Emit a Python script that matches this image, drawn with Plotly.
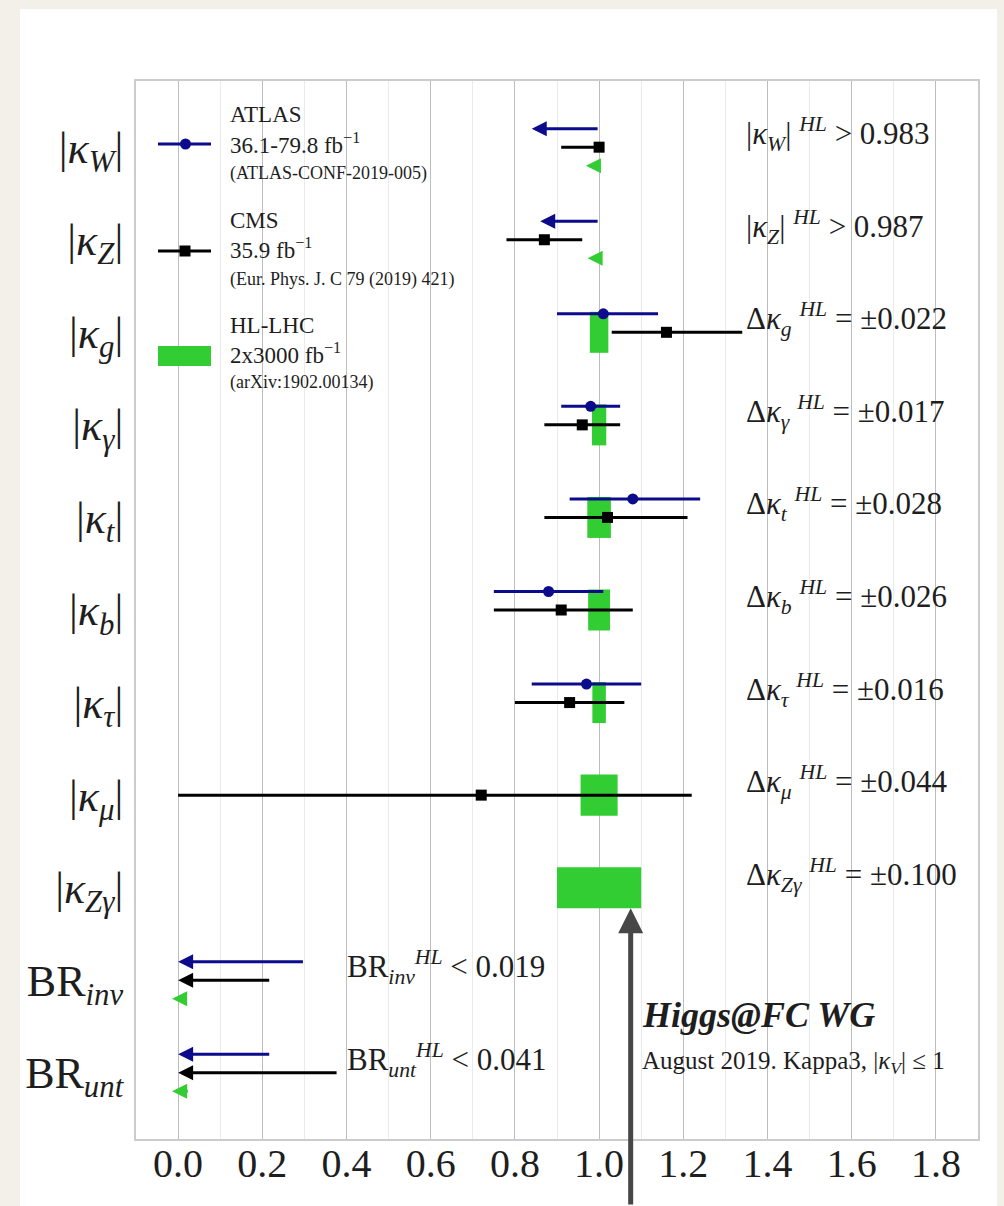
import plotly.graph_objects as go

# ---- data -------------------------------------------------------------
rows = ["kW", "kZ", "kg", "kgam", "kt", "kb", "ktau", "kmu", "kZgam", "BRinv", "BRunt"]
row_labels = [
    "|<i>κ</i><sub><i>W</i></sub>|",
    "|<i>κ</i><sub><i>Z</i></sub>|",
    "|<i>κ</i><sub><i>g</i></sub>|",
    "|<i>κ</i><sub><i>γ</i></sub>|",
    "|<i>κ</i><sub><i>t</i></sub>|",
    "|<i>κ</i><sub><i>b</i></sub>|",
    "|<i>κ</i><sub><i>τ</i></sub>|",
    "|<i>κ</i><sub><i>μ</i></sub>|",
    "|<i>κ</i><sub><i>Zγ</i></sub>|",
    "BR<sub><i>inv</i></sub>",
    "BR<sub><i>unt</i></sub>",
]

# ATLAS 36.1-79.8 fb-1 : measured couplings (central, low, high)
atlas_rows = ["kg", "kgam", "kt", "kb", "ktau"]
atlas_central = [1.01, 0.98, 1.08, 0.88, 0.97]
atlas_low = [0.90, 0.91, 0.93, 0.75, 0.84]
atlas_high = [1.14, 1.05, 1.24, 1.01, 1.10]
# ATLAS limits drawn as arrows (from -> to)
atlas_limit_rows = ["kW", "kZ", "BRinv", "BRunt"]
atlas_limit_from = [1.0, 1.0, 0.30, 0.22]
atlas_limit_to = [0.84, 0.86, 0.0, 0.0]

# CMS 35.9 fb-1 : measured couplings (central, low, high)
cms_rows = ["kW", "kZ", "kg", "kgam", "kt", "kb", "ktau", "kmu"]
cms_central = [1.00, 0.87, 1.16, 0.96, 1.02, 0.91, 0.93, 0.72]
cms_low = [0.91, 0.78, 1.03, 0.87, 0.87, 0.75, 0.80, 0.00]
cms_high = [1.00, 0.96, 1.34, 1.05, 1.21, 1.08, 1.06, 1.22]
cms_limit_rows = ["BRinv", "BRunt"]
cms_limit_from = [0.22, 0.38]
cms_limit_to = [0.0, 0.0]

# HL-LHC projections: uncertainties around the SM value 1
hl_rows = ["kg", "kgam", "kt", "kb", "ktau", "kmu", "kZgam"]
hl_delta = [0.022, 0.017, 0.028, 0.026, 0.016, 0.044, 0.100]
hl_delta_names = ["g", "γ", "t", "b", "τ", "μ", "Zγ"]
# HL-LHC limits: kappa_V lower bounds and BR upper bounds
hl_lower_rows = ["kW", "kZ"]
hl_lower_names = ["W", "Z"]
hl_lower_values = [0.983, 0.987]
hl_br_rows = ["BRinv", "BRunt"]
hl_br_names = ["inv", "unt"]
hl_br_values = [0.019, 0.041]

x_ticks = [0.0, 0.2, 0.4, 0.6, 0.8, 1.0, 1.2, 1.4, 1.6, 1.8]

# ---- styling ------------------------------------------------------------
FONT = "Liberation Serif"
TEXT = "#1e1e1e"
BLUE = "#0b0b8c"
BLACK = "#000000"
GREEN = "#32cd32"
GREY = "#474747"
W, H = 1004, 1206
PLOT_L, PLOT_R, PLOT_T, PLOT_B = 136, 978, 81, 1139
Y_HALF = 0.715
OFFSET = 0.2          # vertical offset of ATLAS (up) and HL arrows (down)
BOX_HEIGHT = 0.443
POINTER_X = 1.075

ypos = {r: -i for i, r in enumerate(rows)}


def px_x(px):
    return (px - PLOT_L) / (PLOT_R - PLOT_L)


def px_y(py):
    return (PLOT_B - py) / (PLOT_B - PLOT_T)


fig = go.Figure()

# HL-LHC uncertainty boxes
fig.add_trace(go.Bar(
    orientation="h",
    y=[ypos[r] for r in hl_rows],
    x=[2 * d for d in hl_delta],
    base=[1 - d for d in hl_delta],
    width=BOX_HEIGHT,
    marker=dict(color=GREEN, line=dict(width=0)),
    hoverinfo="skip",
))

# ATLAS measurements
fig.add_trace(go.Scatter(
    x=atlas_central,
    y=[ypos[r] + OFFSET for r in atlas_rows],
    mode="markers",
    marker=dict(symbol="circle", size=11, color=BLUE),
    error_x=dict(type="data", symmetric=False,
                 array=[h - c for h, c in zip(atlas_high, atlas_central)],
                 arrayminus=[c - l for c, l in zip(atlas_central, atlas_low)],
                 thickness=3, width=0, color=BLUE),
))

# CMS measurements
fig.add_trace(go.Scatter(
    x=cms_central,
    y=[ypos[r] for r in cms_rows],
    mode="markers",
    marker=dict(symbol="square", size=11, color=BLACK),
    error_x=dict(type="data", symmetric=False,
                 array=[h - c for h, c in zip(cms_high, cms_central)],
                 arrayminus=[c - l for c, l in zip(cms_central, cms_low)],
                 thickness=3, width=0, color=BLACK),
))

annotations = []


def limit_arrow(x_from, x_to, y, color, shift=0):
    annotations.append(dict(
        x=x_to, y=y, ax=x_from, ay=y, xref="x", yref="y", axref="x", ayref="y",
        text="", showarrow=True, arrowhead=2, arrowsize=1.0, arrowwidth=3,
        arrowcolor=color, standoff=0, startstandoff=0, xshift=shift,
    ))


for r, a, b in zip(atlas_limit_rows, atlas_limit_from, atlas_limit_to):
    limit_arrow(a, b, ypos[r] + OFFSET, BLUE)
for r, a, b in zip(cms_limit_rows, cms_limit_from, cms_limit_to):
    limit_arrow(a, b, ypos[r], BLACK)
# HL arrows carry the head past the bound, as in the original style
for r, v in zip(hl_lower_rows, hl_lower_values):
    limit_arrow(1.0, v, ypos[r] - OFFSET, GREEN, shift=-6)
for r, v in zip(hl_br_rows, hl_br_values):
    limit_arrow(v, 0.0, ypos[r] - OFFSET, GREEN, shift=-6)

# Right-hand HL-LHC summary labels
LABEL_X = 1.343
LABEL_SIZE = 31
for r, name, v in zip(hl_lower_rows, hl_lower_names, hl_lower_values):
    annotations.append(dict(
        x=LABEL_X, y=ypos[r], xref="x", yref="y", xanchor="left", yanchor="middle",
        yshift=13, showarrow=False,
        text=f"|<i>κ</i><sub><i>{name}</i></sub>| <sup><i>HL</i></sup> > {v:.3f}",
        font=dict(family=FONT, size=LABEL_SIZE, color=TEXT),
    ))
for r, name, d in zip(hl_rows, hl_delta_names, hl_delta):
    annotations.append(dict(
        x=LABEL_X, y=ypos[r], xref="x", yref="y", xanchor="left", yanchor="middle",
        yshift=13, showarrow=False,
        text=f"Δ<i>κ</i><sub><i>{name}</i></sub> <sup><i>HL</i></sup> = ±{d:.3f}",
        font=dict(family=FONT, size=LABEL_SIZE, color=TEXT),
    ))
for r, name, v in zip(hl_br_rows, hl_br_names, hl_br_values):
    annotations.append(dict(
        x=0.397, y=ypos[r], xref="x", yref="y", xanchor="left", yanchor="middle",
        yshift=13, showarrow=False,
        text=f"BR<sub><i>{name}</i></sub><sup><i>HL</i></sup> < {v:.3f}",
        font=dict(family=FONT, size=LABEL_SIZE, color=TEXT),
    ))

# Legend block
legend_blocks = [
    ("ATLAS", "36.1-79.8 fb<sup>−1</sup>", "(ATLAS-CONF-2019-005)", 115, 143, 173),
    ("CMS", "35.9 fb<sup>−1</sup>", "(Eur. Phys. J. C 79 (2019) 421)", 220, 249, 279),
    ("HL-LHC", "2x3000 fb<sup>−1</sup>", "(arXiv:1902.00134)", 325, 353, 383),
]
for t1, t2, t3, y1, y2, y3 in legend_blocks:
    for txt, yy, sz in ((t1, y1, 23), (t2, y2, 23), (t3, y3, 18)):
        annotations.append(dict(
            x=px_x(228), y=px_y(yy), xref="paper", yref="paper",
            xanchor="left", yanchor="middle", showarrow=False, text=txt,
            font=dict(family=FONT, size=sz, color=TEXT),
        ))

# Working-group tag
annotations.append(dict(
    x=1.098, y=px_y(1015), xref="x", yref="paper", xanchor="left", yanchor="middle",
    showarrow=False, text="<b><i>Higgs@FC WG</i></b>",
    font=dict(family=FONT, size=36, color=TEXT),
))
annotations.append(dict(
    x=1.098, y=px_y(1062), xref="x", yref="paper", xanchor="left", yanchor="middle",
    showarrow=False, text="August 2019. Kappa3, |<i>κ</i><sub><i>V</i></sub>| ≤ 1",
    font=dict(family=FONT, size=25, color=TEXT),
))

# Pointer arrow from below the axis to the Z-gamma box
annotations.append(dict(
    x=POINTER_X, y=ypos["kZgam"] - BOX_HEIGHT / 2, xref="x", yref="y",
    ax=0, ay=330, text="", showarrow=True, arrowhead=2, arrowsize=1,
    arrowwidth=5, arrowcolor=GREY, standoff=0,
))

shapes = [
    # white page panel
    dict(type="rect", xref="paper", yref="paper", layer="below",
         x0=px_x(20), x1=px_x(997), y0=px_y(1300), y1=px_y(9),
         fillcolor="white", line=dict(width=0)),
    # legend swatches
    dict(type="line", xref="paper", yref="paper",
         x0=px_x(158), x1=px_x(211), y0=px_y(144), y1=px_y(144),
         line=dict(color=BLUE, width=3)),
    dict(type="circle", xref="paper", yref="paper",
         x0=px_x(180), x1=px_x(191), y0=px_y(149.5), y1=px_y(138.5),
         fillcolor=BLUE, line=dict(width=0)),
    dict(type="line", xref="paper", yref="paper",
         x0=px_x(158), x1=px_x(211), y0=px_y(251), y1=px_y(251),
         line=dict(color=BLACK, width=3)),
    dict(type="rect", xref="paper", yref="paper",
         x0=px_x(179.5), x1=px_x(190.5), y0=px_y(256.5), y1=px_y(245.5),
         fillcolor=BLACK, line=dict(width=0)),
    dict(type="rect", xref="paper", yref="paper",
         x0=px_x(158), x1=px_x(211), y0=px_y(366), y1=px_y(346),
         fillcolor=GREEN, line=dict(width=0)),
]

fig.update_layout(
    width=W, height=H,
    margin=dict(l=PLOT_L, r=W - PLOT_R, t=PLOT_T, b=H - PLOT_B, pad=0, autoexpand=False),
    paper_bgcolor="#f3f0e9",
    plot_bgcolor="white",
    showlegend=False,
    annotations=annotations,
    shapes=shapes,
    xaxis=dict(
        range=[-0.1, 1.9], tickvals=x_ticks, ticktext=[f"{v:.1f}" for v in x_ticks],
        showgrid=True, gridcolor="#bdbdbd", gridwidth=1, zeroline=False,
        minor=dict(dtick=0.1, tick0=0, showgrid=True, gridcolor="#ebebeb", gridwidth=1),
        showline=True, mirror=True, linecolor="#cccccc", linewidth=2,
        ticks="", ticklabelstandoff=-12, automargin=False,
        tickfont=dict(family=FONT, size=40, color=TEXT),
    ),
    yaxis=dict(
        range=[-10 - Y_HALF, Y_HALF],
        tickvals=[ypos[r] for r in rows], ticktext=row_labels,
        showgrid=False, zeroline=False,
        showline=True, mirror=True, linecolor="#cccccc", linewidth=2,
        ticks="", ticklabelstandoff=2, automargin=False,
        tickfont=dict(family=FONT, size=44, color=TEXT),
    ),
)

fig.write_html("out.html")
